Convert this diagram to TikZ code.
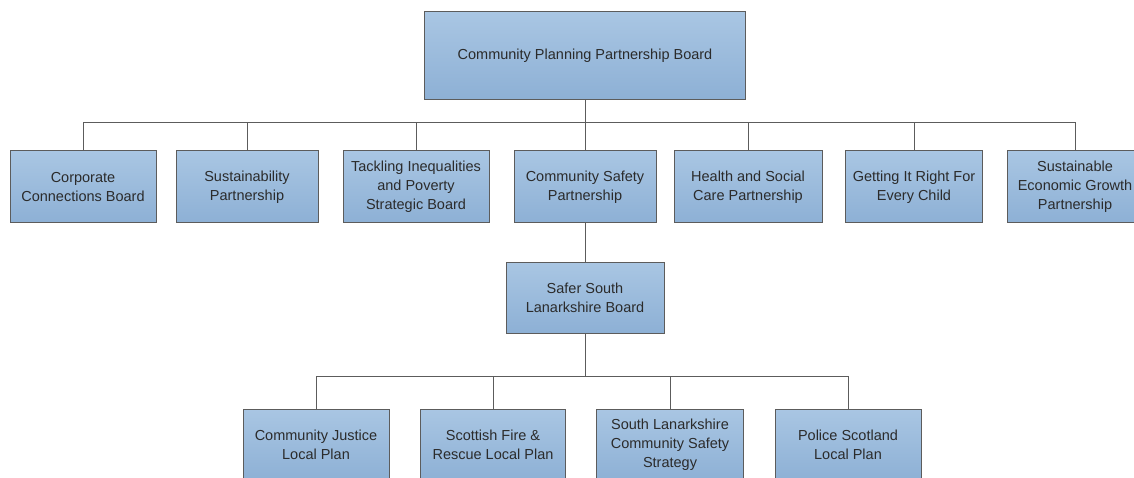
\documentclass[tikz,border=0pt]{standalone}
\usepackage{fontspec}
\setmainfont{Liberation Sans}
\definecolor{boxtop}{HTML}{A9C6E3}
\definecolor{boxbot}{HTML}{8DB0D5}
\definecolor{boxline}{HTML}{5C5C5C}
\definecolor{boxtext}{HTML}{2B2B2B}
\tikzset{
    orgbox/.style={draw=boxline, line width=1pt, top color=boxtop, bottom color=boxbot,
        align=center, text=boxtext, inner sep=0pt,
        font=\fontsize{14.5}{19}\selectfont, minimum height=72pt},
    link/.style={draw=boxline, line width=1pt}
}
\begin{document}
\begin{tikzpicture}[x=1pt,y=-1pt]
    \useasboundingbox (0,0) rectangle (1134,478);
    \node[orgbox, minimum width=321pt, minimum height=88pt] (cppb) at (585,56) {Community Planning Partnership Board};

    \node[orgbox, minimum width=146pt] (ccb) at (83,187) {Corporate\\Connections Board};
    \node[orgbox, minimum width=142pt] (sp) at (247,187) {Sustainability\\Partnership};
    \node[orgbox, minimum width=146pt] (tipsb) at (416,187) {Tackling Inequalities\\and Poverty\\Strategic Board};
    \node[orgbox, minimum width=142pt] (csp) at (585,187) {Community Safety\\Partnership};
    \node[orgbox, minimum width=148pt] (hscp) at (748,187) {Health and Social\\Care Partnership};
    \node[orgbox, minimum width=137pt] (girfec) at (914,187) {Getting It Right For\\Every Child};
    \node[orgbox, minimum width=136pt] (segp) at (1075,187) {Sustainable\\Economic Growth\\Partnership};

    \node[orgbox, minimum width=158pt, minimum height=71pt] (sslb) at (585,297.5) {Safer South\\Lanarkshire Board};

    \node[orgbox, minimum width=146pt] (cjlp) at (316,445) {Community Justice\\Local Plan};
    \node[orgbox, minimum width=145pt] (sfrlp) at (493,445) {Scottish Fire \&\\Rescue Local Plan};
    \node[orgbox, minimum width=147pt] (slcss) at (670,445) {South Lanarkshire\\Community Safety\\Strategy};
    \node[orgbox, minimum width=146pt] (pslp) at (848,445) {Police Scotland\\Local Plan};

    % connectors
    \coordinate (bustop) at (585,123);
    \coordinate (buslow) at (585,376);
    \draw[link] (cppb) -- (bustop);
    \foreach \n in {ccb,sp,tipsb,csp,hscp,girfec,segp}
        \draw[link] (bustop) -| (\n);
    \draw[link] (csp) -- (sslb);
    \draw[link] (sslb) -- (buslow);
    \foreach \n in {cjlp,sfrlp,slcss,pslp}
        \draw[link] (buslow) -| (\n);
\end{tikzpicture}
\end{document}
